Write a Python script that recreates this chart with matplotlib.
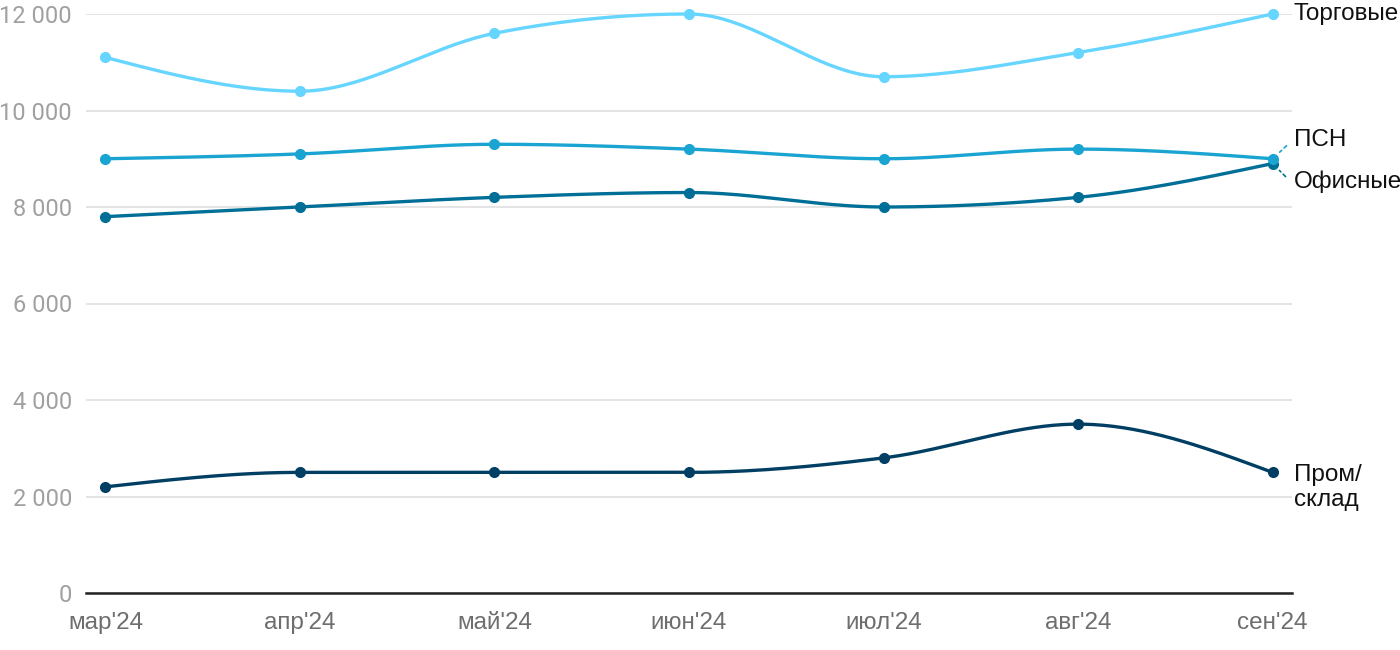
import numpy as np
import matplotlib
matplotlib.use('Agg')
import matplotlib.pyplot as plt

months = ["мар'24", "апр'24", "май'24", "июн'24", "июл'24", "авг'24", "сен'24"]
trade = [11100, 10400, 11600, 12000, 10700, 11200, 12000]
psn = [9000, 9100, 9300, 9200, 9000, 9200, 9000]
office = [7800, 8000, 8200, 8300, 8000, 8200, 8900]
warehouse = [2200, 2500, 2500, 2500, 2800, 3500, 2500]
y_ticks = [0, 2000, 4000, 6000, 8000, 10000, 12000]

plt.rcParams['font.family'] = ['Roboto', 'DejaVu Sans']
ARIAL = ['Liberation Sans', 'DejaVu Sans']


def monotone_curve(y, n=40):
    """Monotone cubic (d3 curveMonotoneX style) through equally spaced points."""
    y = np.asarray(y, dtype=float)
    x = np.arange(len(y), dtype=float)
    s = np.diff(y)  # secants, h = 1
    m = np.zeros(len(y))
    for i in range(1, len(y) - 1):
        s0, s1 = s[i - 1], s[i]
        p = (s0 + s1) / 2
        m[i] = (np.sign(s0) + np.sign(s1)) * min(abs(s0), abs(s1), 0.5 * abs(p))
    m[0] = (3 * s[0] - m[1]) / 2
    m[-1] = (3 * s[-1] - m[-2]) / 2
    xs, ys = [], []
    for i in range(len(y) - 1):
        t = np.linspace(0, 1, n, endpoint=(i == len(y) - 2))
        h00 = 2 * t**3 - 3 * t**2 + 1
        h10 = t**3 - 2 * t**2 + t
        h01 = -2 * t**3 + 3 * t**2
        h11 = t**3 - t**2
        xs.append(x[i] + t)
        ys.append(h00 * y[i] + h10 * m[i] + h01 * y[i + 1] + h11 * m[i + 1])
    return np.concatenate(xs), np.concatenate(ys)


fig = plt.figure(figsize=(14, 6.5), dpi=100)
ax = fig.add_axes([86 / 1400, 1 - 593 / 650, (1292 - 86) / 1400, (593 - 14) / 650])

series = [
    (warehouse, "#003f63"),
    (office, "#006f98"),
    (psn, "#1aa4d2"),
    (trade, "#66d5ff"),
]
x = np.arange(len(months))
for vals, color in series:
    cx, cy = monotone_curve(vals)
    ax.plot(cx, cy, color=color, lw=2.4, clip_on=False, zorder=3)
    ax.plot(x, vals, 'o', color=color, ms=7, clip_on=False, zorder=4)

ax.set_xlim(-0.1, 6.1)
ax.set_ylim(0, 12000)
ax.set_yticks(y_ticks)
ax.set_yticklabels([f"{v:,}".replace(",", " ") for v in y_ticks])
ax.set_xticks(x)
ax.set_xticklabels(months)
ax.tick_params(axis='both', length=0)
ax.tick_params(axis='y', pad=10, labelsize=17, colors='#a0a0a0')
ax.tick_params(axis='x', pad=14, labelsize=17.5, colors='#6e6e6e')
for lbl in ax.get_xticklabels():
    lbl.set_family(ARIAL)
ax.grid(axis='y', color='#e2e2e2', lw=1.3)
ax.set_axisbelow(True)
for side in ['top', 'right', 'left']:
    ax.spines[side].set_visible(False)
ax.spines['bottom'].set_color('#222222')
ax.spines['bottom'].set_linewidth(1.8)
ax.spines['bottom'].set_zorder(5)

# right-side labels
last = len(months) - 1
lbl_kw = dict(textcoords='offset pixels', fontsize=17.5, color='#111111', family=ARIAL,
              ha='left', va='center', annotation_clip=False)
ax.annotate("Торговые", (last, trade[-1]), xytext=(21, 0), **lbl_kw)
ax.annotate("ПСН", (last, psn[-1]), xytext=(21, 19), **lbl_kw)
ax.annotate("Офисные", (last, office[-1]), xytext=(21, -18), **lbl_kw)
ax.annotate("Пром/\nсклад", (last, warehouse[-1]), xytext=(21, -15),
            linespacing=1.2, **lbl_kw)

# dashed leaders for the overlapping labels
ax.annotate("", (last, psn[-1]), xytext=(14, 13), textcoords='offset pixels',
            arrowprops=dict(arrowstyle='-', color='#1aa4d2', lw=1.2, ls=(0, (2, 2)),
                            shrinkA=0, shrinkB=7), annotation_clip=False)
ax.annotate("", (last, office[-1]), xytext=(13, -13), textcoords='offset pixels',
            arrowprops=dict(arrowstyle='-', color='#006f98', lw=1.2, ls=(0, (2, 2)),
                            shrinkA=0, shrinkB=7), annotation_clip=False)

fig.savefig("out.png", dpi=100)
